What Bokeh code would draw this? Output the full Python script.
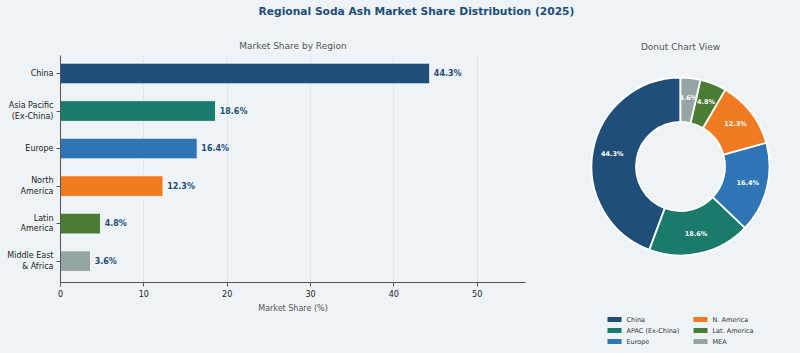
import math
from bokeh.plotting import figure
from bokeh.models import Range1d, FixedTicker, ColumnDataSource
from bokeh.layouts import column, row
from bokeh.embed import file_html
from bokeh.resources import INLINE
from bokeh.core.properties import value

# ---------------- data ----------------
regions = ["China", "Asia Pacific\n(Ex-China)", "Europe", "North\nAmerica",
           "Latin\nAmerica", "Middle East\n& Africa"]
legend_names = ["China", "APAC (Ex-China)", "Europe", "N. America", "Lat. America", "MEA"]
shares = [44.3, 18.6, 16.4, 12.3, 4.8, 3.6]
colors = ["#1f4e79", "#1a7a6b", "#2e75b6", "#f07b22", "#4a7c34", "#95a5a6"]
x_ticks = [0, 10, 20, 30, 40, 50]

BG = "#eef3f7"
FONT = "DejaVu Sans"
W, H = 800, 353
TITLE_H = 24
BODY_H = H - TITLE_H
BORDER_TOP, BORDER_BOTTOM = 31, 71

# ---------------- title strip ----------------
t = figure(width=W, height=TITLE_H, x_range=Range1d(0, W), y_range=Range1d(0, TITLE_H),
           output_backend="svg", toolbar_location=None, min_border=0, title=None)
t.axis.visible = False
t.grid.visible = False
t.outline_line_color = None
t.background_fill_color = BG
t.border_fill_color = BG
t.frame_align = False
t.text(x=[416], y=[TITLE_H - 11], text=["Regional Soda Ash Market Share Distribution (2025)"],
       text_font=value(FONT), text_font_style="bold", text_font_size="10.7px",
       text_color="#1f4e79", text_align="center", text_baseline="middle")

# ---------------- bar chart ----------------
ypos = list(range(len(regions)))
src = ColumnDataSource(dict(y=ypos, share=shares, color=colors,
                            lx=[s + 0.5 for s in shares],
                            lab=[f"{s:.1f}%" for s in shares]))

p1 = figure(width=580, height=BODY_H, x_range=Range1d(0, 55.8), y_range=Range1d(5.57, -0.48),
            output_backend="svg", toolbar_location=None,
            min_border_left=60, min_border_right=55, min_border_top=BORDER_TOP,
            min_border_bottom=BORDER_BOTTOM, title="Market Share by Region")
p1.frame_align = False
p1.background_fill_color = BG
p1.border_fill_color = BG
p1.outline_line_color = None
p1.title.align = "center"
p1.title.text_font = FONT
p1.title.text_font_size = "9px"
p1.title.text_font_style = "normal"
p1.title.text_color = "#555555"

p1.hbar(y="y", right="share", left=0, height=0.55, fill_color="color",
        line_color="white", line_width=0.8, source=src)
p1.text(x="lx", y="y", text="lab", source=src, text_font=value(FONT), text_font_style="bold",
        text_font_size="8px", text_color="#1f4e79", text_align="left", text_baseline="middle")

p1.ygrid.visible = False
p1.xgrid.grid_line_color = "#c8cfd6"
p1.xgrid.grid_line_dash = "2 2"
p1.xgrid.grid_line_width = 0.7

p1.xaxis.ticker = FixedTicker(ticks=x_ticks)
p1.xaxis.axis_label = "Market Share (%)"
p1.xaxis.axis_label_text_font = FONT
p1.xaxis.axis_label_text_font_size = "8px"
p1.xaxis.axis_label_text_font_style = "normal"
p1.xaxis.axis_label_text_color = "#555555"
p1.xaxis.axis_label_standoff = 4

p1.yaxis.ticker = FixedTicker(ticks=ypos)
p1.yaxis.major_label_overrides = {i: r for i, r in zip(ypos, regions)}

for ax in (p1.xaxis[0], p1.yaxis[0]):
    ax.axis_line_color = "#555555"
    ax.axis_line_width = 1
    ax.major_tick_line_color = "#555555"
    ax.major_tick_out = 4
    ax.major_tick_in = 0
    ax.minor_tick_line_color = None
    ax.major_label_text_font = FONT
    ax.major_label_text_font_size = "8px"
    ax.major_label_text_color = "#222222"
    ax.major_label_standoff = 3

# ---------------- donut (frame = whole panel, 1 data unit = 1 px, y = 353 - page_y) ----------------
P2W = W - 580
p2 = figure(width=P2W, height=BODY_H, x_range=Range1d(0, P2W), y_range=Range1d(0, BODY_H),
            output_backend="svg", toolbar_location=None, min_border=0, title=None)
p2.frame_align = False
p2.axis.visible = False
p2.grid.visible = False
p2.outline_line_color = None
p2.background_fill_color = BG
p2.border_fill_color = BG

cx, cy = 100, H - 166
R_OUT, R_IN = 89, 44.5
starts, ends, lx, ly = [], [], [], []
acc = 90.0
for s in shares:
    a0 = acc
    a1 = acc + s / 100.0 * 360.0
    starts.append(math.radians(a0))
    ends.append(math.radians(a1))
    mid = math.radians((a0 + a1) / 2)
    lx.append(cx + 0.78 * R_OUT * math.cos(mid))
    ly.append(cy + 0.78 * R_OUT * math.sin(mid))
    acc = a1

dsrc = ColumnDataSource(dict(start=starts, end=ends, color=colors, lx=lx, ly=ly,
                             lab=[f"{s:.1f}%" for s in shares]))
p2.annular_wedge(x=cx, y=cy, inner_radius=R_IN, outer_radius=R_OUT, start_angle="start",
                 end_angle="end", direction="anticlock", fill_color="color",
                 line_color="white", line_width=1.8, source=dsrc)
p2.text(x="lx", y="ly", text="lab", source=dsrc, text_font=value(FONT), text_font_style="bold",
        text_font_size="6.5px", text_color="white", text_align="center", text_baseline="middle")

p2.text(x=[cx], y=[H - 46], text=["Donut Chart View"], text_font=value(FONT),
        text_font_size="9px", text_color="#555555", text_align="center", text_baseline="middle")

# legend (2 columns, 3 rows)
leg_x, leg_y, leg_tx = [], [], []
for i in range(len(legend_names)):
    col, r = divmod(i, 3)
    px = 34 + col * 86
    py = (H - 319) - r * 11
    leg_x.append(px)
    leg_y.append(py)
    leg_tx.append(px + 12)
lsrc = ColumnDataSource(dict(x=leg_x, y=leg_y, tx=leg_tx, color=colors, name=legend_names))
p2.rect(x="x", y="y", width=14, height=5, fill_color="color", line_color=None, source=lsrc)
p2.text(x="tx", y="y", text="name", source=lsrc, text_font=value(FONT), text_font_size="6.5px",
        text_color="#333333", text_align="left", text_baseline="middle")

layout = column(t, row(p1, p2, spacing=0, styles={"background-color": BG}),
                spacing=0, styles={"background-color": BG})
open("out.html", "w").write(file_html(layout, INLINE))
